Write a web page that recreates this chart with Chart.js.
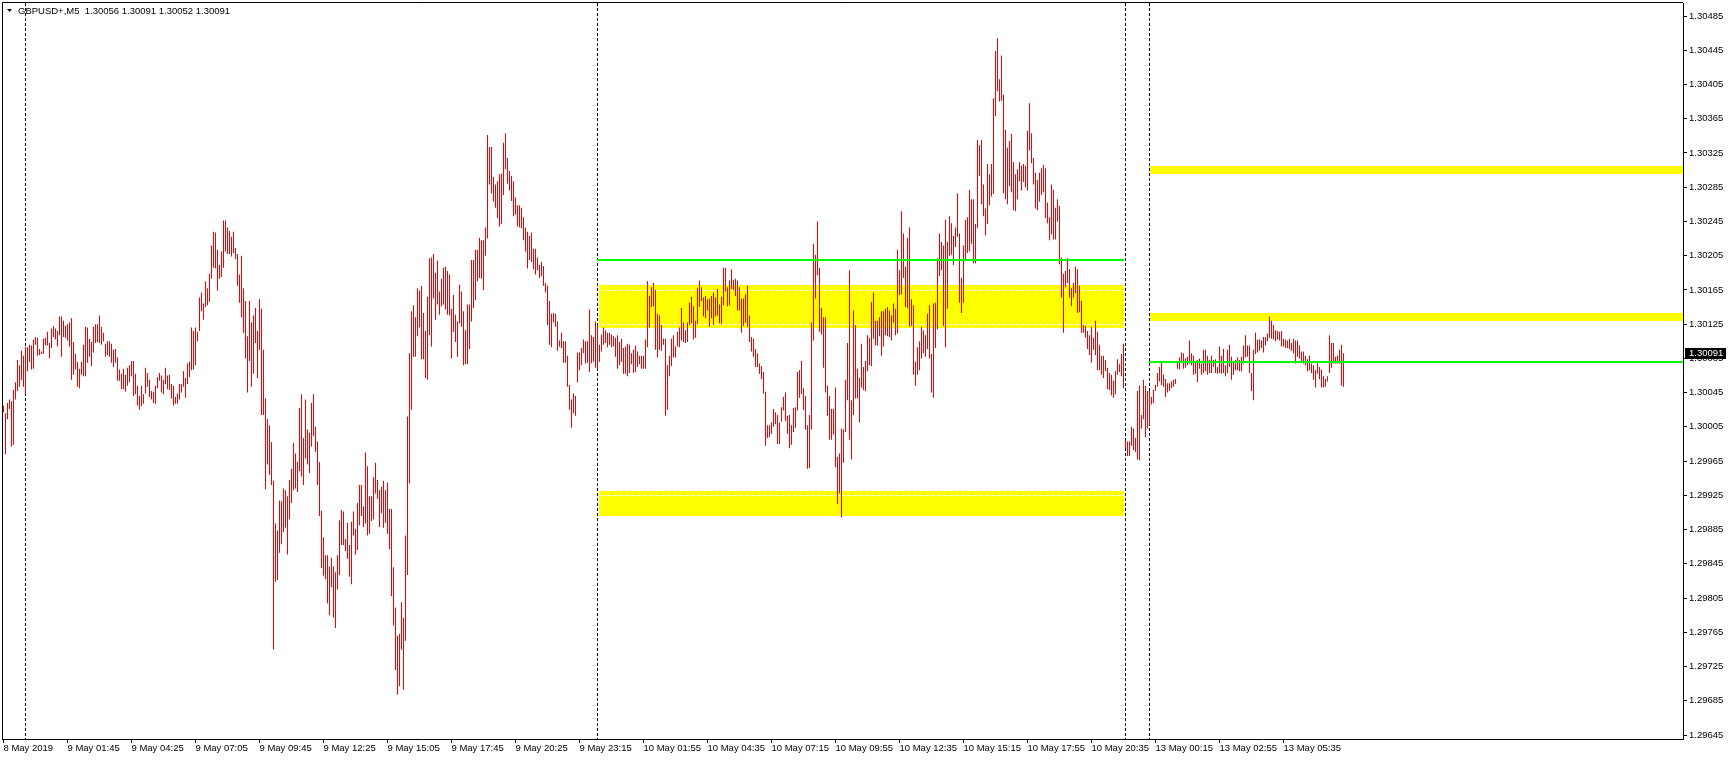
<!DOCTYPE html>
<html>
<head>
<meta charset="utf-8">
<title>GBPUSD+,M5</title>
<script src="https://cdn.jsdelivr.net/npm/chart.js@4.4.0/dist/chart.umd.min.js"></script>
<style>
  html, body { margin: 0; padding: 0; background: #fff; }
  #wrap { width: 1729px; height: 760px; }
</style>
</head>
<body>
<div id="wrap"><canvas id="chart" width="1729" height="760"></canvas></div>
<script>
// Symbol info and last quote (O H L C), prices written as the digits after "1."
const symbolName = "GBPUSD+";
const timeframe = "M5";
const lastQuote = [30056, 30091, 30052, 30091];

// Bar highs / lows, one per M5 bar from 8 May 23:05 (digits after "1.")
const barHigh = [
  30030,30021,30033,30037,30035,30048,30057,30083,30077,30094,
  30088,30098,30098,30101,30100,30107,30110,30109,30096,30093,
  30108,30109,30116,30103,30120,30123,30120,30117,30134,30134,
  30129,30123,30125,30127,30132,30104,30090,30081,30073,30081,
  30101,30122,30121,30108,30104,30122,30125,30125,30135,30122,
  30115,30102,30105,30105,30102,30095,30096,30086,30072,30067,
  30073,30066,30074,30077,30082,30082,30067,30053,30041,30053,
  30043,30074,30068,30060,30047,30046,30053,30063,30068,30065,
  30060,30074,30065,30066,30055,30053,30040,30044,30055,30055,
  30070,30062,30079,30081,30121,30117,30121,30116,30156,30162,
  30149,30175,30167,30184,30217,30233,30232,30212,30194,30210,
  30246,30246,30238,30234,30227,30233,30214,30207,30183,30205,
  30167,30152,30111,30152,30127,30135,30144,30117,30154,30143,
  30095,30038,30014,30007,29987,29942,29892,29884,29919,29918,
  29933,29931,29924,29943,29956,29986,29974,29964,30027,30043,
  29992,30037,30002,29998,30033,30043,30005,29988,29964,29907,
  29876,29855,29855,29842,29852,29842,29835,29855,29896,29908,
  29906,29874,29893,29867,29894,29906,29886,29916,29937,29937,
  29912,29975,29959,29924,29924,29946,29963,29943,29931,29935,
  29942,29931,29940,29909,29909,29841,29794,29761,29763,29800,
  29782,29878,30017,30091,30140,30147,30133,30167,30164,30170,
  30138,30117,30157,30202,30203,30207,30185,30199,30163,30178,
  30191,30192,30187,30183,30143,30159,30136,30128,30171,30163,
  30140,30118,30148,30148,30200,30200,30212,30212,30226,30223,
  30223,30238,30346,30332,30332,30297,30288,30292,30300,30301,
  30337,30348,30319,30304,30298,30292,30273,30264,30264,30261,
  30250,30238,30233,30228,30232,30213,30213,30203,30194,30198,
  30193,30173,30170,30152,30137,30138,30137,30128,30106,30115,
  30105,30105,30088,30054,30037,30044,30041,30092,30092,30097,
  30107,30105,30105,30142,30112,30110,30128,30123,30101,30113,
  30121,30118,30115,30115,30113,30111,30109,30112,30104,30108,
  30097,30099,30102,30101,30091,30095,30100,30093,30088,30088,
  30088,30107,30175,30158,30168,30173,30165,30137,30135,30124,
  30108,30108,30077,30088,30108,30112,30099,30116,30121,30144,
  30127,30118,30127,30150,30157,30146,30129,30167,30176,30168,
  30156,30158,30154,30155,30158,30162,30156,30166,30148,30157,
  30191,30191,30168,30176,30189,30177,30178,30176,30168,30155,
  30155,30160,30170,30135,30110,30108,30096,30091,30079,30076,
  30069,30046,30007,30007,30010,30026,30022,30019,30010,30028,
  30040,30045,30018,30019,30007,30027,30028,30069,30071,30082,
  30050,30041,30007,30019,30127,30219,30206,30245,30191,30144,
  30133,30133,30053,30041,30026,30026,30051,29970,29974,30003,
  30002,30060,30103,30188,30036,30141,30124,30073,30062,30102,
  30075,30082,30112,30109,30151,30162,30129,30129,30133,30140,
  30140,30143,30145,30141,30135,30149,30143,30212,30188,30257,
  30231,30192,30226,30238,30154,30147,30081,30098,30105,30122,
  30118,30112,30137,30147,30090,30149,30150,30202,30231,30221,
  30217,30247,30221,30251,30243,30228,30238,30278,30231,30179,
  30217,30247,30250,30282,30271,30271,30242,30340,30334,30340,
  30288,30260,30312,30300,30312,30389,30444,30459,30411,30439,
  30393,30352,30331,30339,30347,30314,30300,30306,30314,30310,
  30312,30310,30351,30383,30348,30319,30302,30293,30302,30307,
  30311,30307,30267,30250,30288,30282,30261,30271,30263,30203,
  30184,30187,30202,30189,30167,30173,30192,30189,30170,30152,
  30124,30123,30117,30112,30122,30109,30129,30116,30101,30088,
  30088,30083,30074,30068,30066,30059,30070,30084,30078,30090,
  30102,29990,29988,29988,30005,30003,29992,30047,30053,30019,
  30060,30053,30047,30047,30040,30048,30054,30068,30075,30081,
  30066,30061,30056,30056,30058,30060,30061,30081,30086,30092,
  30091,30085,30087,30106,30091,30088,30081,30083,30085,30079,
  30095,30095,30088,30083,30088,30083,30084,30075,30099,30088,
  30096,30077,30095,30101,30087,30081,30083,30086,30083,30087,
  30100,30112,30100,30100,30068,30095,30115,30107,30107,30106,
  30110,30110,30114,30134,30129,30124,30118,30117,30116,30117,
  30108,30107,30106,30108,30103,30108,30106,30106,30100,30093,
  30093,30088,30084,30088,30079,30077,30071,30080,30075,30072,
  30064,30061,30064,30112,30103,30103,30087,30088,30095,30101,
  30091
];
const barLow = [
  30022,29973,30014,30026,29982,29984,30037,30047,30052,30060,
  30052,30043,30070,30081,30072,30073,30101,30088,30089,30090,
  30090,30100,30100,30085,30097,30110,30107,30099,30112,30087,
  30110,30109,30106,30099,30060,30066,30072,30052,30050,30066,
  30064,30064,30080,30087,30076,30092,30103,30104,30103,30101,
  30105,30087,30089,30087,30080,30075,30080,30059,30059,30049,
  30049,30046,30053,30057,30064,30041,30043,30030,30025,30029,
  30032,30044,30052,30040,30037,30033,30032,30050,30059,30045,
  30043,30055,30049,30048,30038,30030,30032,30032,30037,30045,
  30052,30039,30055,30063,30071,30072,30077,30105,30117,30140,
  30130,30145,30147,30151,30178,30191,30190,30164,30178,30180,
  30191,30210,30207,30207,30204,30208,30201,30170,30150,30133,
  30115,30085,30045,30082,30052,30067,30103,30062,30095,30019,
  30019,29932,29961,29949,29937,29745,29824,29826,29858,29868,
  29882,29887,29856,29897,29916,29931,29933,29929,29953,29947,
  29937,29968,29961,29951,29982,29994,29976,29937,29901,29840,
  29831,29827,29799,29785,29818,29782,29770,29815,29832,29867,
  29867,29860,29851,29830,29821,29878,29856,29861,29890,29901,
  29888,29892,29878,29880,29895,29897,29927,29921,29888,29904,
  29887,29893,29880,29862,29807,29773,29721,29692,29702,29745,
  29698,29755,29832,29939,30025,30087,30087,30111,30121,30084,
  30084,30062,30060,30112,30099,30155,30130,30148,30136,30146,
  30148,30142,30136,30135,30085,30116,30104,30087,30126,30122,
  30077,30078,30078,30096,30128,30144,30153,30175,30179,30178,
  30165,30205,30225,30288,30278,30268,30261,30249,30239,30242,
  30276,30306,30289,30281,30269,30251,30253,30239,30238,30237,
  30223,30210,30190,30200,30198,30189,30183,30188,30179,30181,
  30170,30162,30124,30101,30098,30127,30122,30094,30099,30097,
  30080,30080,30052,30025,30004,30021,30018,30057,30071,30077,
  30091,30079,30080,30069,30079,30081,30074,30072,30081,30093,
  30101,30103,30098,30101,30098,30099,30087,30073,30077,30081,
  30067,30067,30064,30068,30078,30068,30069,30075,30078,30073,
  30073,30073,30098,30121,30145,30146,30095,30086,30095,30094,
  30101,30018,30025,30064,30076,30086,30086,30099,30098,30106,
  30104,30103,30104,30124,30126,30107,30109,30125,30145,30152,
  30134,30132,30141,30122,30132,30124,30134,30135,30126,30125,
  30147,30163,30146,30147,30166,30165,30158,30141,30141,30115,
  30123,30127,30122,30104,30093,30087,30075,30075,30067,30061,
  30044,29983,29992,29993,29997,30005,30008,29985,29985,30011,
  30024,30012,29997,29980,29984,29999,30004,30024,30039,30043,
  30025,30002,29956,29957,30002,30106,30155,30182,30116,30113,
  30074,30045,30018,29990,29990,29996,29958,29915,29927,29899,
  29963,29999,30036,29990,29967,30019,30038,30038,30010,30051,
  30048,30047,30070,30077,30076,30108,30100,30100,30111,30088,
  30099,30112,30111,30110,30106,30127,30112,30114,30159,30160,
  30179,30145,30144,30122,30123,30066,30053,30066,30071,30085,
  30091,30087,30096,30085,30045,30039,30097,30119,30181,30188,
  30123,30098,30143,30205,30206,30194,30215,30227,30150,30138,
  30150,30201,30208,30210,30219,30196,30196,30237,30298,30265,
  30251,30229,30242,30264,30274,30277,30368,30397,30385,30386,
  30278,30271,30265,30286,30279,30258,30257,30271,30292,30281,
  30291,30285,30281,30328,30313,30288,30260,30258,30268,30276,
  30279,30249,30243,30223,30230,30224,30224,30245,30195,30156,
  30115,30168,30173,30156,30146,30156,30161,30138,30139,30115,
  30115,30109,30096,30089,30080,30095,30089,30071,30071,30066,
  30062,30070,30049,30048,30042,30039,30043,30066,30069,30064,
  30050,29980,29971,29971,29983,29978,29976,29967,29966,30003,
  30014,29993,30003,30007,30031,30033,30047,30052,30058,30054,
  30052,30040,30045,30047,30050,30052,30055,30073,30072,30082,
  30073,30074,30077,30079,30077,30066,30067,30057,30073,30066,
  30068,30070,30066,30068,30068,30075,30068,30067,30068,30067,
  30068,30064,30068,30075,30060,30066,30071,30071,30070,30070,
  30079,30086,30087,30068,30047,30036,30090,30092,30094,30097,
  30092,30100,30105,30109,30108,30107,30105,30107,30106,30099,
  30099,30097,30097,30096,30094,30091,30079,30087,30085,30081,
  30079,30077,30070,30071,30068,30060,30051,30067,30061,30051,
  30051,30052,30058,30068,30074,30079,30079,30079,30079,30053,
  30052
];

// Axis ticks
const priceTicks = [29645,29685,29725,29765,29805,29845,29885,29925,29965,30005,30045,
                    30085,30125,30165,30205,30245,30285,30325,30365,30405,30445,30485];
const timeTickIdx = [0,32,64,96,128,160,192,224,256,288,320,352,384,416,448,480,512,544,576,608,640];
const timeTickLabels = ["8 May 2019","9 May 01:45","9 May 04:25","9 May 07:05","9 May 09:45",
  "9 May 12:25","9 May 15:05","9 May 17:45","9 May 20:25","9 May 23:15","10 May 01:55",
  "10 May 04:35","10 May 07:15","10 May 09:55","10 May 12:35","10 May 15:15","10 May 17:55",
  "10 May 20:35","13 May 00:15","13 May 02:55","13 May 05:35"];

// Day separators (bar index)
const daySeparators = [11, 297, 561, 573];

// Yellow zones: bar index range and price range
const zoneFrom = [297.75, 297.75, 573, 573];
const zoneTo = [560.25, 560.25, 839.75, 839.75];
const zoneTop = [30171, 29930, 30310, 30138];
const zoneBottom = [30121, 29901, 30300, 30129];

// White dashed levels inside the left zones
const dashLevels = [30165, 30125, 29925];
const dashFrom = 297.75, dashTo = 560.25;

// Green horizontal levels
const levelFrom = [297, 573];
const levelTo = [560.25, 839.75];
const levelPrice = [30200, 30081];

const FONT = '"Liberation Sans", Arial, sans-serif';
Chart.defaults.font.family = FONT;
Chart.defaults.font.size = 9.5;
Chart.defaults.color = "#000";

const overlay = {
  id: "overlay",
  beforeDatasetsDraw(chart) {
    const { ctx, chartArea: a, scales: { x, y } } = chart;
    ctx.save();
    ctx.beginPath();
    ctx.rect(a.left, a.top, a.right - a.left, a.bottom - a.top);
    ctx.clip();

    // yellow zones
    ctx.fillStyle = "#ffff00";
    zoneTop.forEach((t, k) => {
      const x0 = Math.round(x.getPixelForValue(zoneFrom[k]));
      const x1 = Math.round(x.getPixelForValue(zoneTo[k]));
      const y0 = Math.round(y.getPixelForValue(t));
      const y1 = Math.round(y.getPixelForValue(zoneBottom[k]));
      ctx.fillRect(x0, y0, x1 - x0, y1 - y0);
    });

    // white dashed lines
    ctx.strokeStyle = "#ffffff";
    ctx.lineWidth = 1;
    ctx.setLineDash([4, 2]);
    dashLevels.forEach(p => {
      const yy = Math.round(y.getPixelForValue(p)) + 0.5;
      ctx.beginPath();
      ctx.moveTo(Math.round(x.getPixelForValue(dashFrom)) + 2, yy);
      ctx.lineTo(Math.round(x.getPixelForValue(dashTo)), yy);
      ctx.stroke();
    });

    // day separators
    ctx.strokeStyle = "#000";
    ctx.setLineDash([3, 2]);
    daySeparators.forEach(i => {
      const xx = Math.floor(x.getPixelForValue(i)) + 0.5;
      ctx.beginPath();
      ctx.moveTo(xx, a.top);
      ctx.lineTo(xx, a.bottom);
      ctx.stroke();
    });
    ctx.restore();
  },
  afterDatasetsDraw(chart) {
    const { ctx, chartArea: a, scales: { x, y } } = chart;
    ctx.save();
    ctx.beginPath();
    ctx.rect(a.left, a.top, a.right - a.left, a.bottom - a.top);
    ctx.clip();
    ctx.strokeStyle = "#00ff00";
    ctx.lineWidth = 2;
    levelPrice.forEach((p, k) => {
      const yy = Math.round(y.getPixelForValue(p));
      ctx.beginPath();
      ctx.moveTo(Math.floor(x.getPixelForValue(levelFrom[k])), yy);
      ctx.lineTo(Math.round(x.getPixelForValue(levelTo[k])), yy);
      ctx.stroke();
    });
    ctx.restore();
  },
  afterDraw(chart) {
    const { ctx, chartArea: a, scales: { y } } = chart;
    ctx.save();
    // left and top frame
    ctx.strokeStyle = "#000";
    ctx.lineWidth = 1;
    ctx.beginPath();
    ctx.moveTo(a.left + 0.5, a.bottom);
    ctx.lineTo(a.left + 0.5, a.top - 0.5);
    ctx.lineTo(a.right, a.top - 0.5);
    ctx.stroke();

    // title
    ctx.fillStyle = "#000";
    ctx.beginPath();
    ctx.moveTo(7, 9);
    ctx.lineTo(12, 9);
    ctx.lineTo(9.5, 12);
    ctx.closePath();
    ctx.fill();
    ctx.font = "9.5px " + FONT;
    ctx.textBaseline = "middle";
    const title = symbolName + "," + timeframe + "  " + lastQuote.map(v => "1." + v).join(" ");
    ctx.fillText(title, 18, 11);

    // current price label
    const close = lastQuote[3];
    const py = Math.round(y.getPixelForValue(close));
    ctx.fillStyle = "#000";
    ctx.fillRect(a.right + 2, py - 5, 41, 11);
    ctx.fillStyle = "#fff";
    ctx.fillText("1." + close, a.right + 6, py + 0.5);
    ctx.restore();
  }
};

new Chart(document.getElementById("chart"), {
  type: "bar",
  data: {
    datasets: [{
      data: barHigh.map((h, i) => ({ x: i, y: [barLow[i], h] })),
      backgroundColor: "#f00000",
      borderWidth: 0,
      barThickness: 1,
      inflateAmount: 0,
      minBarLength: 1,
      grouped: false
    }]
  },
  options: {
    responsive: false,
    animation: false,
    devicePixelRatio: 1,
    layout: { padding: { left: 2, top: 3, right: 0, bottom: 0 } },
    plugins: { legend: { display: false }, tooltip: { enabled: false } },
    scales: {
      x: {
        type: "linear",
        min: -0.75,
        max: 839.75,
        offset: false,
        afterBuildTicks: s => { s.ticks = timeTickIdx.map(v => ({ value: v })); },
        afterFit: s => { s.height = 21; s.paddingLeft = 0; s.paddingRight = 0; },
        grid: { drawOnChartArea: false, drawTicks: true, tickLength: 4, color: "#000", offset: false },
        border: { display: true, color: "#000", width: 1 },
        ticks: {
          autoSkip: false, maxRotation: 0, minRotation: 0, align: "start", padding: 0,
          color: "#000",
          callback: (v, idx) => timeTickLabels[idx]
        }
      },
      y: {
        position: "right",
        min: 29640.33,
        max: 30500.19,
        afterBuildTicks: s => { s.ticks = priceTicks.map(v => ({ value: v })); },
        afterFit: s => { s.width = 46; s.paddingTop = 0; s.paddingBottom = 0; },
        grid: { drawOnChartArea: false, drawTicks: true, tickLength: 4, color: "#000" },
        border: { display: true, color: "#000", width: 1 },
        ticks: {
          autoSkip: false, padding: 2, color: "#000",
          callback: v => "1." + v
        }
      }
    }
  },
  plugins: [overlay]
});
</script>
</body>
</html>
